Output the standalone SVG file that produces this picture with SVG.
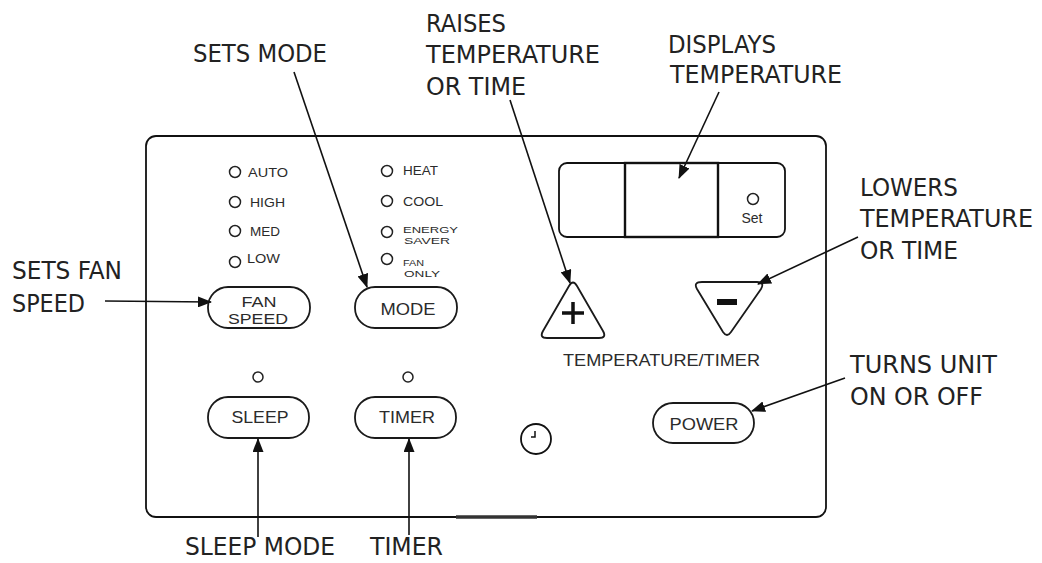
<svg xmlns="http://www.w3.org/2000/svg" width="1042" height="563" viewBox="0 0 1042 563">
<defs>
<style>
.lbl{font-family:"DejaVu Sans Condensed","DejaVu Sans",sans-serif;font-size:24px;fill:#222}
.pt{font-family:"Liberation Sans",Arial,sans-serif;fill:#2b2b2b}
.sm{font-size:13px}
.xs{font-size:9.5px}
.bt{font-size:17px;text-anchor:middle}
.ln{fill:none;stroke:#111;stroke-width:1.8}
.led{fill:#fff;stroke:#222;stroke-width:1.5}
.pill{fill:#fff;stroke:#1a1a1a;stroke-width:1.8}
.arr{fill:none;stroke:#111;stroke-width:1.6;marker-end:url(#ah)}
</style>
<marker id="ah" markerUnits="userSpaceOnUse" markerWidth="14" markerHeight="11" refX="13" refY="5.5" orient="auto">
<path d="M0,0 L14,5.5 L0,11 z" fill="#111"/>
</marker>
</defs>
<rect width="1042" height="563" fill="#fff"/>

<g id="panel">
<rect x="146" y="136" width="680" height="381" rx="10" class="ln"/>
<line x1="456" y1="517" x2="537" y2="517" stroke="#333" stroke-width="3.5"/>
</g>

<g id="fan-leds">
<circle cx="235" cy="172" r="5.5" class="led" stroke-width="2.2"/>
<text x="248" y="177" class="pt sm" textLength="40" lengthAdjust="spacingAndGlyphs">AUTO</text>
<circle cx="235" cy="202" r="5.5" class="led"/>
<text x="250" y="207" class="pt sm" textLength="35" lengthAdjust="spacingAndGlyphs">HIGH</text>
<circle cx="235" cy="231" r="5.5" class="led"/>
<text x="250" y="236" class="pt sm" textLength="30" lengthAdjust="spacingAndGlyphs">MED</text>
<circle cx="235" cy="262" r="5.5" class="led"/>
<text x="247" y="263" class="pt sm" textLength="33" lengthAdjust="spacingAndGlyphs">LOW</text>
</g>

<g id="mode-leds">
<circle cx="387" cy="171" r="5.5" class="led"/>
<text x="403" y="175" class="pt sm" textLength="35" lengthAdjust="spacingAndGlyphs">HEAT</text>
<circle cx="387" cy="201" r="5.5" class="led"/>
<text x="403" y="206" class="pt sm" textLength="40" lengthAdjust="spacingAndGlyphs">COOL</text>
<circle cx="387" cy="232" r="5.5" class="led"/>
<text x="403" y="233" class="pt xs" textLength="55" lengthAdjust="spacingAndGlyphs">ENERGY</text>
<text x="404" y="244" class="pt xs" textLength="46" lengthAdjust="spacingAndGlyphs">SAVER</text>
<circle cx="387" cy="259" r="5.5" class="led"/>
<text x="403" y="266" class="pt xs" textLength="21" lengthAdjust="spacingAndGlyphs">FAN</text>
<text x="404" y="277" class="pt xs" textLength="36" lengthAdjust="spacingAndGlyphs">ONLY</text>
</g>

<g id="btn-fan-speed">
<rect x="208" y="287" width="102" height="41" rx="20" class="pill"/>
<text x="259" y="306.5" class="pt bt" font-size="14.5" style="font-size:14.5px" textLength="35" lengthAdjust="spacingAndGlyphs">FAN</text>
<text x="258" y="323.5" class="pt bt" style="font-size:14.5px" textLength="60" lengthAdjust="spacingAndGlyphs">SPEED</text>
</g>

<g id="btn-mode">
<rect x="355" y="287" width="102" height="41" rx="20" class="pill"/>
<text x="408" y="315" class="pt bt" textLength="55" lengthAdjust="spacingAndGlyphs">MODE</text>
</g>

<g id="led-sleep"><circle cx="258" cy="377" r="5" class="led"/></g>
<g id="led-timer"><circle cx="408" cy="377" r="5" class="led"/></g>

<g id="btn-sleep">
<rect x="208" y="397" width="101" height="41" rx="20" class="pill"/>
<text x="260" y="423" class="pt bt" textLength="57" lengthAdjust="spacingAndGlyphs">SLEEP</text>
</g>

<g id="btn-timer">
<rect x="355" y="397" width="101" height="41" rx="20" class="pill"/>
<text x="407" y="423" class="pt bt" textLength="56" lengthAdjust="spacingAndGlyphs">TIMER</text>
</g>

<g id="display">
<rect x="559" y="163" width="226" height="74" rx="8" class="ln"/>
<rect x="625" y="163" width="93" height="74" fill="none" stroke="#111" stroke-width="2.4"/>
<circle cx="753" cy="199" r="5.5" class="led"/>
<text x="752" y="223" class="pt" font-size="14" text-anchor="middle">Set</text>
</g>

<g id="btn-plus">
<path d="M569,286 Q573,279 577,286 L603,331 Q607,338 599,338 L547,338 Q539,338 543,331 Z" class="pill" stroke-width="2"/>
<path d="M562,313 H584 M573,302 V324" stroke="#111" stroke-width="3.5" fill="none"/>
</g>

<g id="btn-minus">
<path d="M702,282 L757,282 Q765,282 761,289 L731,332 Q727,338 723,332 L697,289 Q693,282 702,282 Z" class="pill" stroke-width="2"/>
<rect x="717" y="299" width="20" height="6" fill="#111"/>
</g>

<g id="temp-timer-label">
<text x="563" y="366" class="pt" font-size="17" textLength="197" lengthAdjust="spacingAndGlyphs">TEMPERATURE/TIMER</text>
</g>

<g id="btn-power">
<rect x="653" y="403" width="101" height="40" rx="20" class="pill"/>
<text x="704" y="430" class="pt bt" textLength="69" lengthAdjust="spacingAndGlyphs">POWER</text>
</g>

<g id="clock">
<circle cx="536" cy="439" r="15" class="ln"/>
<path d="M535,431 V437 H531" fill="none" stroke="#111" stroke-width="1.5"/>
</g>

<g id="labels">
<text x="12" y="279" class="lbl" textLength="110" lengthAdjust="spacingAndGlyphs">SETS FAN</text>
<text x="12" y="312" class="lbl" textLength="73" lengthAdjust="spacingAndGlyphs">SPEED</text>
<text x="193" y="62" class="lbl" textLength="134" lengthAdjust="spacingAndGlyphs">SETS MODE</text>
<text x="426" y="32" class="lbl" textLength="80" lengthAdjust="spacingAndGlyphs">RAISES</text>
<text x="426" y="63" class="lbl" textLength="174" lengthAdjust="spacingAndGlyphs">TEMPERATURE</text>
<text x="426" y="95" class="lbl" textLength="100" lengthAdjust="spacingAndGlyphs">OR TIME</text>
<text x="668" y="53" class="lbl" textLength="108" lengthAdjust="spacingAndGlyphs">DISPLAYS</text>
<text x="670" y="83" class="lbl" textLength="172" lengthAdjust="spacingAndGlyphs">TEMPERATURE</text>
<text x="860" y="196" class="lbl" textLength="98" lengthAdjust="spacingAndGlyphs">LOWERS</text>
<text x="860" y="227" class="lbl" textLength="173" lengthAdjust="spacingAndGlyphs">TEMPERATURE</text>
<text x="860" y="259" class="lbl" textLength="98" lengthAdjust="spacingAndGlyphs">OR TIME</text>
<text x="850" y="373" class="lbl" textLength="147" lengthAdjust="spacingAndGlyphs">TURNS UNIT</text>
<text x="850" y="405" class="lbl" textLength="133" lengthAdjust="spacingAndGlyphs">ON OR OFF</text>
<text x="185" y="555" class="lbl" textLength="150" lengthAdjust="spacingAndGlyphs">SLEEP MODE</text>
<text x="370" y="555" class="lbl" textLength="73" lengthAdjust="spacingAndGlyphs">TIMER</text>
</g>

<g id="connectors">
<line x1="105" y1="301" x2="211" y2="302" class="arr"/>
<line x1="294" y1="72" x2="367" y2="287" class="arr"/>
<line x1="510" y1="100" x2="570" y2="283" class="arr"/>
<line x1="719" y1="92" x2="679" y2="178" class="arr"/>
<line x1="858" y1="237" x2="758" y2="284" class="arr"/>
<line x1="845" y1="378" x2="752" y2="411" class="arr"/>
<line x1="258" y1="537" x2="258" y2="439" class="arr"/>
<line x1="409" y1="535" x2="409" y2="439" class="arr"/>
</g>
</svg>
